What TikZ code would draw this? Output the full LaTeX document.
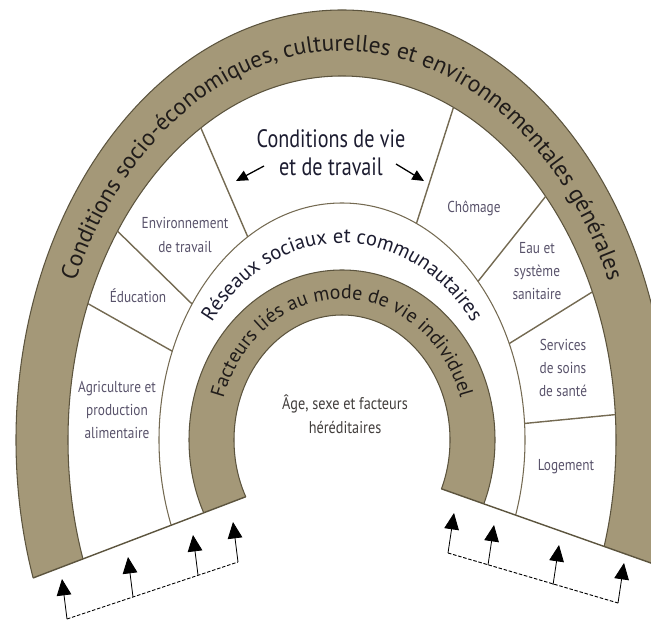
\documentclass[tikz,border=0pt]{standalone}
\usepackage{fontspec}
\setmainfont{PT Sans}
\newfontfamily\condfont[FakeStretch=0.84]{PT Sans}
\newfontfamily\titlefont[FakeStretch=0.80]{PT Sans}
\usetikzlibrary{arrows.meta}
\usetikzlibrary{calc}
\usetikzlibrary{decorations.text}
\definecolor{bandbrown}{RGB}{164,152,120}
\definecolor{bandline}{RGB}{92,84,62}
\definecolor{segline}{RGB}{116,106,82}
\definecolor{segtext}{RGB}{88,82,106}
\definecolor{darktext}{RGB}{32,28,26}
\definecolor{navytext}{RGB}{28,28,48}

\begin{document}
\begin{tikzpicture}[x=0.03cm,y=0.03cm,
  band/.style={fill=bandbrown,draw=bandline,line width=0.9pt,even odd rule},
  ring/.style={draw=segline,line width=0.9pt},
  seg/.style={draw=segline,line width=1.2pt},
  cutline/.style={draw=bandline,line width=1.2pt},
  seglabel/.style={align=center,text=segtext,inner sep=0pt,font=\condfont\fontsize{13.5}{20}\selectfont},
  feed/.style={-{Triangle[length=14pt,width=12.5pt]},line width=0.7pt},
  hint/.style={-{Triangle[length=10pt,width=9pt]},line width=1.1pt},
  bracket/.style={dash pattern=on 3pt off 1.5pt,line width=0.8pt}]
  \useasboundingbox (0,0) rectangle (651,622);
  \coordinate (c) at (342,182);
  \coordinate (top) at (0,700);
  \coordinate (lin) at ($(c)+(207:108 and 125)$);
  \coordinate (rin) at ($(c)+(-23:108 and 125)$);
  \coordinate (lout) at ($(lin)+(200.9:300)$);
  \coordinate (rout) at ($(rin)+(-19.5:300)$);

  % rings, cut along the bottom
  \begin{scope}
    \clip (lout) -- (lin) -- (rin) -- (rout) -- (rout |- top) -- (lout |- top) -- cycle;
    \path[band] (c) ellipse[x radius=326,y radius=430] (c) ellipse[x radius=274,y radius=364];
    \path[ring] (c) ellipse[x radius=183,y radius=237];
    \path[band] (c) ellipse[x radius=153,y radius=170] (c) ellipse[x radius=108,y radius=125];
  \end{scope}
  \begin{scope}
    \clip (c) ellipse[x radius=326,y radius=430];
    \draw[cutline] (lout) -- (lin) (rin) -- (rout);
  \end{scope}

  \foreach \t in {158,145,121,66,42,24,4}
    \draw[seg] ($(c)+(\t:274 and 364)$) -- ($(c)+(\t:183 and 237)$);

  % texts on the bands
  \path[decorate,decoration={text along path,text align=center,text color=darktext,
    text={|\fontsize{20}{22}\selectfont|Conditions socio-économiques, culturelles et environnementales générales}}]
    ($(c)+(176:292 and 389)$) arc[start angle=176,end angle=4,x radius=292,y radius=389];
  \path[decorate,decoration={text along path,text align=center,text color=navytext,
    text={|\fontsize{17.5}{20}\selectfont|Réseaux sociaux et communautaires}}]
    ($(c)+(170:162 and 197)$) arc[start angle=170,end angle=10,x radius=162,y radius=197];
  \path[decorate,decoration={text along path,text align=center,text color=darktext,
    text={|\fontsize{17}{20}\selectfont|Facteurs liés au mode de vie individuel}}]
    ($(c)+(185:124 and 141)$) arc[start angle=185,end angle=-5,x radius=124,y radius=141];

  \node[seglabel] (agri) at (117,212) {Agriculture et\\production\\alimentaire};
  \node[seglabel] (educ) at (138,326) {Éducation};
  \node[seglabel] (envt) at (185,387) {Environnement\\de travail};
  \node[align=center,text=navytext,inner sep=0pt,font=\titlefont\fontsize{21.5}{24}\selectfont] (cond) at (331,469) {Conditions de vie\\et de travail};
  \node[seglabel] (chom) at (474,414) {Chômage};
  \node[seglabel] (eau) at (537,351) {Eau et\\système\\sanitaire};
  \node[seglabel] (sante) at (563,254) {Services\\de soins\\de santé};
  \node[seglabel] (loge) at (566,155) {Logement};
  \node[align=center,text=darktext!85,inner sep=0pt,font=\condfont\fontsize{14.5}{20.5}\selectfont] (age) at (345,208) {Âge, sexe et facteurs\\héréditaires};

  \coordinate (h1) at (264,456);
  \coordinate (h2) at (236,441);
  \coordinate (h3) at (396,458);
  \coordinate (h4) at (424,441);
  \draw[hint] (h1) -- (h2);
  \draw[hint] (h3) -- (h4);

  % feedback arrows under the cuts
  \coordinate (l1) at (67,3);
  \coordinate (l2) at (133,25);
  \coordinate (l3) at (198,47);
  \coordinate (l4) at (238,60);
  \coordinate (r1) at (448,69);
  \coordinate (r2) at (488,57);
  \coordinate (r3) at (553,37);
  \coordinate (r4) at (618,19);
  \draw[bracket] (l1) -- (l4);
  \draw[bracket] (r1) -- (r4);
  \foreach \i in {1,...,4} {
    \draw[feed] (l\i) -- ++(-5,40);
    \draw[feed] (r\i) -- ++(6,40);
  }
\end{tikzpicture}
\end{document}
